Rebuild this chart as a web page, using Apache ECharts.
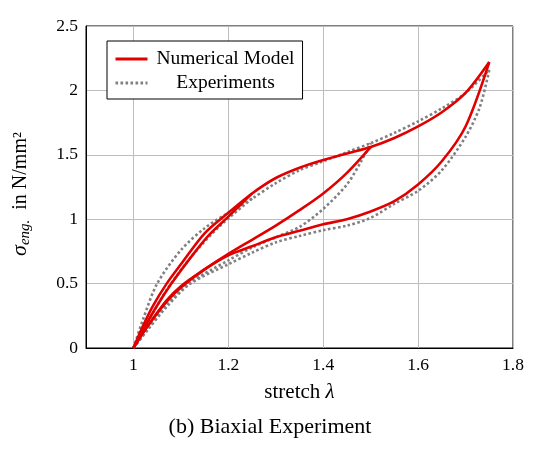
<!DOCTYPE html>
<html>
<head>
<meta charset="utf-8">
<script src="https://cdn.jsdelivr.net/npm/echarts@6/dist/echarts.min.js"></script>
<style>
    html, body { margin: 0; padding: 0; background: #fff; }
    #contain { width: 540px; height: 451px; }
</style>
</head>
<body>
<div id="contain"></div>
<script>
/*numerical model: virgin loading curve*/
var modelLoadX = [1, 1.02, 1.04, 1.07, 1.1, 1.15, 1.2, 1.25, 1.3, 1.35, 1.4, 1.45, 1.5, 1.55, 1.6, 1.65, 1.7, 1.75];
var modelLoadY = [0, 0.17, 0.32, 0.5, 0.65, 0.89, 1.05, 1.2, 1.32, 1.4, 1.46, 1.51, 1.56, 1.63, 1.72, 1.83, 1.98, 2.22];
/*unloading from 1.25*/
var modelUn1X = [1, 1.02, 1.05, 1.08, 1.12, 1.16, 1.2, 1.25];
var modelUn1Y = [0, 0.14, 0.33, 0.5, 0.7, 0.88, 1.02, 1.2];
/*unloading from 1.5*/
var modelUn2X = [1, 1.03, 1.07, 1.1, 1.15, 1.2, 1.25, 1.3, 1.35, 1.4, 1.45, 1.5];
var modelUn2Y = [0, 0.17, 0.37, 0.48, 0.61, 0.73, 0.84, 0.95, 1.07, 1.2, 1.36, 1.56];
/*unloading from 1.75*/
var modelUn3X = [1, 1.03, 1.07, 1.1, 1.15, 1.2, 1.25, 1.3, 1.35, 1.4, 1.45, 1.5, 1.55, 1.6, 1.65, 1.7, 1.75];
var modelUn3Y = [0, 0.17, 0.36, 0.47, 0.61, 0.72, 0.79, 0.86, 0.91, 0.96, 1.0, 1.06, 1.14, 1.27, 1.45, 1.72, 2.22];

/*experiments*/
var expLoadX = [1, 1.02, 1.05, 1.1, 1.15, 1.2, 1.25, 1.3, 1.35, 1.4, 1.45, 1.5, 1.55, 1.6, 1.65, 1.7, 1.75];
var expLoadY = [0, 0.22, 0.5, 0.76, 0.93, 1.05, 1.16, 1.28, 1.38, 1.45, 1.52, 1.59, 1.67, 1.76, 1.86, 1.98, 2.16];
var expUn1X = [1, 1.03, 1.07, 1.12, 1.18, 1.25];
var expUn1Y = [0, 0.2, 0.45, 0.7, 0.94, 1.16];
var expUn2X = [1, 1.03, 1.07, 1.12, 1.2, 1.25, 1.3, 1.35, 1.4, 1.45, 1.48, 1.5];
var expUn2Y = [0, 0.15, 0.34, 0.51, 0.68, 0.78, 0.86, 0.94, 1.08, 1.27, 1.45, 1.59];
var expUn3X = [1, 1.03, 1.07, 1.12, 1.2, 1.25, 1.3, 1.35, 1.4, 1.45, 1.5, 1.55, 1.6, 1.65, 1.7, 1.73, 1.75];
var expUn3Y = [0, 0.14, 0.32, 0.5, 0.65, 0.74, 0.82, 0.87, 0.915, 0.95, 1.01, 1.12, 1.22, 1.38, 1.64, 1.87, 2.16];

var xTicks = [1, 1.2, 1.4, 1.6, 1.8];

var font = "Liberation Serif";

function pairs(xs, ys) {
    var out = [];
    for (var i = 0; i < xs.length; i++) {
        out.push([xs[i], ys[i]]);
    }
    return out;
}

function modelLine(xs, ys) {
    return {
        name: 'Numerical Model',
        type: 'line',
        data: pairs(xs, ys),
        smooth: 0.3,
        symbol: 'none',
        lineStyle: { color: '#e00000', width: 2.6 },
        itemStyle: { color: '#e00000' },
        z: 3
    };
}

function expLine(xs, ys) {
    return {
        name: 'Experiments',
        type: 'line',
        data: pairs(xs, ys),
        smooth: 0.3,
        symbol: 'none',
        lineStyle: { color: '#808080', width: 2.6, type: [2.6, 2.4] },
        itemStyle: { color: '#808080' },
        z: 2
    };
}

var myChart = echarts.init(document.getElementById("contain"));
myChart.setOption({
    animation: false,
    title: {
        text: '(b) Biaxial Experiment',
        left: 'center',
        top: 411,
        textStyle: { fontFamily: font, fontSize: 22, fontWeight: 'normal', color: '#000' }
    },
    legend: {
        data: ['Numerical Model', 'Experiments'],
        orient: 'vertical',
        left: 107,
        top: 41,
        padding: [8, 8, 6, 7],
        itemWidth: 32,
        itemHeight: 18,
        itemGap: 4,
        borderColor: '#000',
        borderWidth: 1,
        backgroundColor: '#fff',
        // hide the symbol the line series puts on its legend icon
        itemStyle: { opacity: 0 },
        lineStyle: { width: 3 },
        formatter: function (name) {
            return '{t|' + name + '}';
        },
        textStyle: {
            rich: {
                t: { width: 146, align: 'center', fontFamily: font, fontSize: 19.5, color: '#000' }
            }
        }
    },
    grid: {
        left: 86,
        right: 27,
        top: 26,
        bottom: 103,
        show: true,
        borderColor: '#000',
        borderWidth: 1
    },
    xAxis: {
        type: 'value',
        min: 0.9,
        max: 1.8,
        name: '{a|stretch }{b|λ}',
        nameLocation: 'middle',
        nameGap: 34,
        nameTextStyle: {
            rich: {
                a: { fontFamily: font, fontSize: 21, color: '#000' },
                b: { fontFamily: font, fontSize: 21, fontStyle: 'italic', color: '#000' }
            }
        },
        axisLine: { lineStyle: { color: '#000' } },
        axisTick: { show: false, customValues: xTicks },
        axisLabel: {
            customValues: xTicks,
            margin: 8,
            color: '#000',
            fontFamily: font,
            fontSize: 17.5
        },
        splitLine: { show: true, lineStyle: { color: '#bdbdbd', width: 1 } }
    },
    yAxis: {
        type: 'value',
        min: 0,
        max: 2.5,
        interval: 0.5,
        name: '{s|σ}{sub|eng.}{n|  in N/mm²}{gap|}',
        nameLocation: 'middle',
        nameGap: 53,
        nameTextStyle: {
            rich: {
                s: { fontFamily: font, fontSize: 22, fontStyle: 'italic', color: '#000', lineHeight: 25 },
                sub: { fontFamily: font, fontSize: 15, fontStyle: 'italic', color: '#000', verticalAlign: 'bottom', lineHeight: 25 },
                n: { fontFamily: font, fontSize: 20, color: '#000', lineHeight: 25 },
                gap: { width: 14, lineHeight: 25 }
            }
        },
        axisLine: { show: true, lineStyle: { color: '#000' } },
        axisTick: { show: false },
        axisLabel: {
            margin: 8,
            color: '#000',
            fontFamily: font,
            fontSize: 17.5
        },
        splitLine: { show: true, lineStyle: { color: '#bdbdbd', width: 1 } }
    },
    series: [
        expLine(expLoadX, expLoadY),
        expLine(expUn1X, expUn1Y),
        expLine(expUn2X, expUn2Y),
        expLine(expUn3X, expUn3Y),
        modelLine(modelLoadX, modelLoadY),
        modelLine(modelUn1X, modelUn1Y),
        modelLine(modelUn2X, modelUn2Y),
        modelLine(modelUn3X, modelUn3Y)
    ]
});
</script>
</body>
</html>
